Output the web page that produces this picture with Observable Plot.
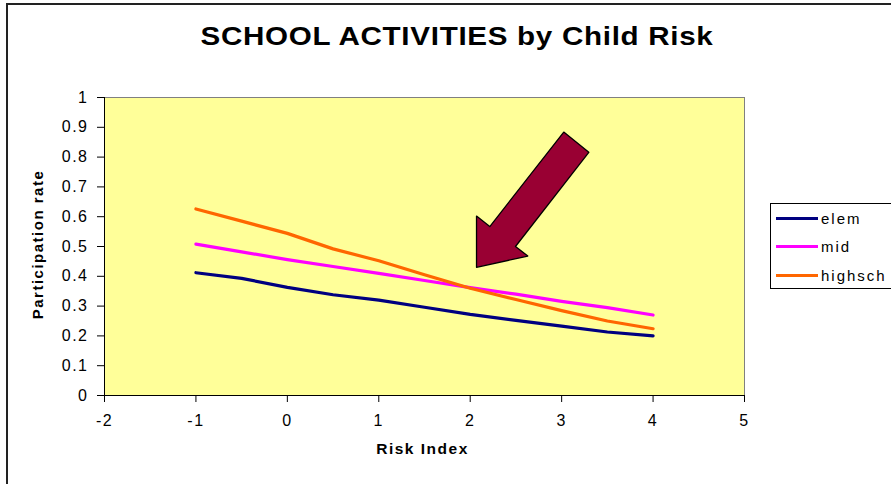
<!DOCTYPE html>
<html>
<head>
<meta charset="utf-8">
<script src="https://cdn.jsdelivr.net/npm/d3@7"></script>
<script src="https://cdn.jsdelivr.net/npm/@observablehq/plot@0.6"></script>
<style>
  html, body { margin: 0; padding: 0; background: #fff; }
  #wrap { position: relative; width: 891px; height: 484px; overflow: hidden; font-family: "Liberation Sans", Arial, sans-serif; }
  #frame { position: absolute; left: 6px; top: 3px; width: 900px; height: 500px; border-left: 2px solid #222; border-top: 2px solid #222; box-sizing: border-box; }
  #title { position: absolute; left: 0; top: 22px; width: 914px; text-align: center; font-size: 25.5px; font-weight: bold; letter-spacing: 0.6px; color: #000; transform: scaleX(1.16); transform-origin: 457px 0; }
  #chart { position: absolute; left: 0; top: 0; }
  #chart svg text { letter-spacing: 1.5px; }
  #legend { position: absolute; left: 770px; top: 203px; width: 140px; height: 86px; border: 1px solid #000; background: #fff; box-sizing: border-box; }
  .lg { position: absolute; left: 5px; height: 20px; display: flex; align-items: center; }
  .lg span.sw { display: inline-block; width: 42px; height: 3px; }
  .lg span.tx { font-size: 15px; letter-spacing: 2px; margin-left: 3px; color: #000; }
</style>
</head>
<body>
<div id="wrap">
  <div id="frame"></div>
  <div id="chart"></div>
  <div id="title"></div>
  <div id="legend"></div>
</div>
<script>
// ---- data ----
const chartTitle = "SCHOOL ACTIVITIES by Child Risk";
const xLabel = "Risk Index";
const yLabel = "Participation rate";
const riskIndex = [-1, -0.5, 0, 0.5, 1, 1.5, 2, 2.5, 3, 3.5, 4];
const seriesNames = ["elem", "mid", "highsch"];
const seriesColors = ["#000080", "#FF00FF", "#FF6600"];
const elem    = [0.412, 0.393, 0.363, 0.338, 0.320, 0.296, 0.272, 0.252, 0.233, 0.213, 0.200];
const mid     = [0.508, 0.482, 0.456, 0.433, 0.410, 0.386, 0.362, 0.340, 0.316, 0.295, 0.270];
const highsch = [0.626, 0.585, 0.544, 0.492, 0.452, 0.405, 0.360, 0.322, 0.285, 0.250, 0.224];
const xTicks = [-2, -1, 0, 1, 2, 3, 4, 5];
const yTicks = [0, 0.1, 0.2, 0.3, 0.4, 0.5, 0.6, 0.7, 0.8, 0.9, 1];
// annotation arrow outline, in data coordinates (Risk Index, Participation rate)
const arrowX = [3.023, 2.214, 2.069, 2.069, 2.630, 2.495, 3.297];
const arrowY = [0.884, 0.567, 0.602, 0.430, 0.468, 0.500, 0.816];

// ---- build ----
const seriesValues = [elem, mid, highsch];
const rows = [];
seriesNames.forEach((s, i) => riskIndex.forEach((x, j) => rows.push({series: s, x, y: seriesValues[i][j]})));
const arrow = arrowX.map((x, i) => ({x, y: arrowY[i]}));

const chart = Plot.plot({
  width: 891,
  height: 484,
  marginLeft: 104,
  marginRight: 147,
  marginTop: 97,
  marginBottom: 89,
  style: {fontFamily: "'Liberation Sans', Arial, sans-serif", fontSize: "16px", color: "#000", background: "transparent"},
  x: {domain: [-2, 5]},
  y: {domain: [0, 1]},
  color: {domain: seriesNames, range: seriesColors},
  marks: [
    Plot.frame({fill: "#FFFF99", stroke: "#808080"}),
    Plot.ruleX([-2], {stroke: "#000", strokeWidth: 1}),
    Plot.ruleY([0], {stroke: "#000", strokeWidth: 1}),
    Plot.axisX({ticks: xTicks, tickFormat: d => String(d), tickSize: 7, tickPadding: 12, label: null, fontSize: 16}),
    Plot.axisY({ticks: yTicks, tickFormat: d => String(d), tickSize: 7, tickPadding: 9, label: null, fontSize: 16}),
    Plot.line(rows, {x: "x", y: "y", z: "series", stroke: "series", strokeWidth: 3.2, strokeLinejoin: "round", strokeLinecap: "round"}),
    Plot.line(arrow, {x: "x", y: "y", curve: "linear-closed", fill: "#990033", stroke: "#000", strokeWidth: 1.3}),
    Plot.text([xLabel], {frameAnchor: "bottom", textAnchor: "middle", dx: -2, dy: 58, fontWeight: "bold", fontSize: 15.5}),
    Plot.text([yLabel], {frameAnchor: "left", textAnchor: "middle", dx: -66, dy: -2, rotate: -90, fontWeight: "bold", fontSize: 15})
  ]
});
document.getElementById("chart").appendChild(chart);
document.getElementById("title").textContent = chartTitle;

const legend = document.getElementById("legend");
seriesNames.forEach((s, i) => {
  const row = document.createElement("div");
  row.className = "lg";
  row.style.top = (4 + i * 28.5) + "px";
  row.innerHTML = `<span class="sw" style="background:${seriesColors[i]}"></span><span class="tx">${s}</span>`;
  legend.appendChild(row);
});
</script>
</body>
</html>
